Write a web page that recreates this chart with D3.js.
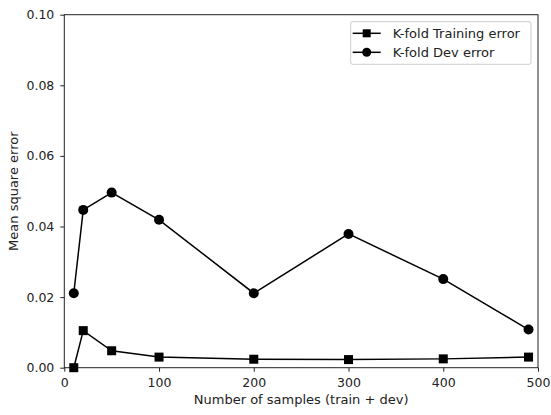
<!DOCTYPE html>
<html>
<head>
<meta charset="utf-8">
<style>
	body{margin:0;background:#fff;}
	text{font-family:"DejaVu Sans",sans-serif;fill:#222;}
</style>
</head>
<body>
<div id="chart"></div>
<script src="https://d3js.org/d3.v7.min.js"></script>
<script>
var samples = [10, 20, 50, 100, 200, 300, 400, 490],
	trainErr = [0.0, 0.0105, 0.0048, 0.0030, 0.0024, 0.0023, 0.0025, 0.0030],
	devErr = [0.0211, 0.0447, 0.0496, 0.0419, 0.0211, 0.0379, 0.0251, 0.0108],
	xTicks = [0, 100, 200, 300, 400, 500],
	yTicks = [0, 0.02, 0.04, 0.06, 0.08, 0.10];

var W = 551, H = 415,
	m = {l:64.3, r:13, t:14.7, b:47.3};

var svg = d3.select('#chart').append('svg').attr('width',W).attr('height',H);

var x = d3.scaleLinear().domain([0,500]).range([m.l, W-m.r]),
	y = d3.scaleLinear().domain([0,0.10]).range([H-m.b, m.t]);

var xAxis = svg.append('g').attr('transform','translate(0,'+(H-m.b)+')')
	.call(d3.axisBottom(x).tickValues(xTicks).tickSize(4).tickPadding(6.5).tickFormat(d3.format('d')));
var yAxis = svg.append('g').attr('transform','translate('+m.l+',0)')
	.call(d3.axisLeft(y).tickValues(yTicks).tickSize(4).tickPadding(6).tickFormat(d3.format('.2f')));

[xAxis, yAxis].forEach(function(a){
	a.selectAll('text').style('font-size','12.5px').style('fill','#222').attr('font-family','DejaVu Sans');
	a.selectAll('line').attr('stroke','#222');
	a.select('.domain').remove();
});

// frame
svg.append('rect').attr('x',m.l).attr('y',m.t).attr('width',W-m.r-m.l).attr('height',H-m.b-m.t)
	.attr('fill','none').attr('stroke','#222').attr('stroke-width',1);

var line = d3.line().x(function(d){return x(d[0]);}).y(function(d){return y(d[1]);});
var trainPts = samples.map(function(s,i){return [s, trainErr[i]];}),
	devPts = samples.map(function(s,i){return [s, devErr[i]];});

svg.append('path').datum(trainPts).attr('d',line).attr('fill','none').attr('stroke','#000').attr('stroke-width',1.5);
svg.append('path').datum(devPts).attr('d',line).attr('fill','none').attr('stroke','#000').attr('stroke-width',1.5);

svg.selectAll('.sq').data(trainPts).enter().append('rect')
	.attr('x',function(d){return x(d[0])-4.5;}).attr('y',function(d){return y(d[1])-4.5;})
	.attr('width',9).attr('height',9).attr('fill','#000');
svg.selectAll('.dot').data(devPts).enter().append('circle')
	.attr('cx',function(d){return x(d[0]);}).attr('cy',function(d){return y(d[1]);})
	.attr('r',5).attr('fill','#000');

// axis labels
svg.append('text').attr('x',(m.l+W-m.r)/2).attr('y',404).attr('text-anchor','middle')
	.style('font-size','13px').text('Number of samples (train + dev)');
svg.append('text').attr('transform','translate(18,'+((m.t+H-m.b)/2)+') rotate(-90)').attr('text-anchor','middle')
	.style('font-size','13px').text('Mean square error');

// legend
var lg = svg.append('g');
lg.append('rect').attr('x',350.7).attr('y',21.7).attr('width',180.3).attr('height',42.6).attr('rx',2)
	.attr('fill','#fff').attr('stroke','#ccc').attr('stroke-width',1);
var items = [{name:'K-fold Training error', shape:'sq'}, {name:'K-fold Dev error', shape:'dot'}];
items.forEach(function(it,i){
	var cy = 33.3 + i*19;
	lg.append('line').attr('x1',352.7).attr('x2',380.7).attr('y1',cy).attr('y2',cy).attr('stroke','#000').attr('stroke-width',1.5);
	if(it.shape=='sq') lg.append('rect').attr('x',366.7-4).attr('y',cy-4).attr('width',8).attr('height',8).attr('fill','#000');
	else lg.append('circle').attr('cx',366.7).attr('cy',cy).attr('r',4.5).attr('fill','#000');
	lg.append('text').attr('x',392.7).attr('y',cy+4.5).style('font-size','13px').text(it.name);
});
</script>
</body>
</html>
